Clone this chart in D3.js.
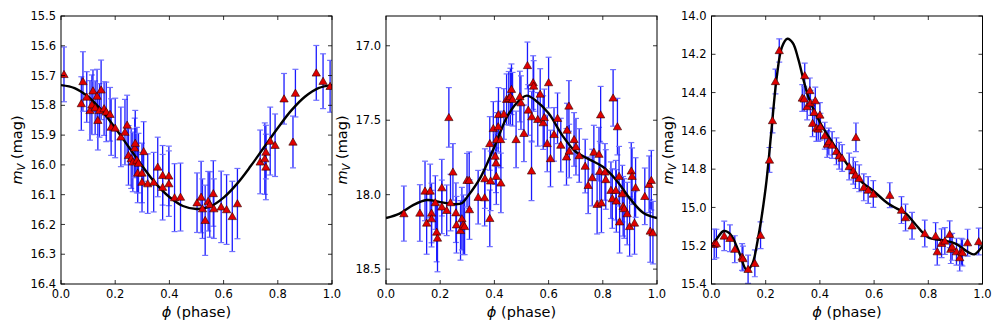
<!DOCTYPE html>
<html><head><meta charset="utf-8">
<script src="https://cdn.jsdelivr.net/npm/d3@7"></script>
<style>
html,body{margin:0;padding:0;background:#fff;}
svg{display:block;font-family:"DejaVu Sans",sans-serif;}
</style></head>
<body>
<svg id="chart" width="1003" height="335"></svg>
<script>
// ---------- Panel 1 data ----------
const phase1 = [0.011,0.075,0.081,0.095,0.107,0.114,0.118,0.126,0.133,0.136,0.142,0.148,0.159,0.167,0.181,0.185,0.200,0.221,0.236,0.244,0.249,0.259,0.265,0.272,0.274,0.280,0.283,0.286,0.299,0.299,0.305,0.320,0.342,0.357,0.375,0.375,0.398,0.398,0.419,0.441,0.502,0.517,0.522,0.532,0.543,0.549,0.562,0.564,0.591,0.611,0.632,0.651,0.735,0.752,0.756,0.756,0.772,0.790,0.823,0.856,0.865,0.942,0.967,0.993];
const mag1 = [15.696,15.794,15.720,15.772,15.817,15.798,15.751,15.808,15.769,15.850,15.817,15.748,15.811,15.822,15.830,15.873,15.876,15.906,15.890,15.866,15.968,15.979,15.990,15.943,15.927,15.984,16.027,15.994,16.027,16.058,15.955,16.063,16.058,16.007,16.035,16.075,16.037,16.063,16.110,16.108,16.127,16.108,16.147,16.186,16.122,16.133,16.096,16.147,16.141,16.150,16.173,16.130,15.990,15.979,16.007,15.957,15.920,15.934,15.778,15.923,15.759,15.691,15.719,15.736];
const err1 = [0.092,0.090,0.100,0.085,0.100,0.100,0.070,0.090,0.090,0.100,0.090,0.100,0.090,0.100,0.090,0.095,0.100,0.100,0.110,0.100,0.100,0.100,0.100,0.100,0.110,0.110,0.100,0.100,0.100,0.100,0.100,0.100,0.100,0.100,0.100,0.110,0.100,0.110,0.114,0.114,0.100,0.120,0.100,0.118,0.100,0.110,0.110,0.100,0.120,0.117,0.118,0.118,0.107,0.120,0.110,0.090,0.114,0.105,0.085,0.087,0.080,0.092,0.092,0.087];
const curvePhase1 = [0,0.05,0.1,0.15,0.2,0.25,0.3,0.35,0.4,0.45,0.5,0.55,0.6,0.65,0.7,0.75,0.8,0.85,0.9,0.95,1.0];
const curveMag1 = [15.732,15.742,15.771,15.817,15.876,15.940,16.004,16.063,16.108,16.138,16.148,16.140,16.110,16.063,16.004,15.940,15.876,15.817,15.771,15.742,15.732];
const yTicks1 = [15.5,15.6,15.7,15.8,15.9,16.0,16.1,16.2,16.3,16.4];

// ---------- Panel 2 data ----------
const phase2 = [0.066,0.125,0.144,0.150,0.163,0.168,0.168,0.182,0.187,0.190,0.206,0.206,0.224,0.232,0.238,0.247,0.258,0.260,0.275,0.280,0.285,0.290,0.299,0.307,0.308,0.340,0.364,0.365,0.383,0.383,0.386,0.396,0.403,0.406,0.407,0.408,0.414,0.415,0.423,0.424,0.435,0.445,0.453,0.459,0.463,0.467,0.480,0.494,0.498,0.509,0.522,0.525,0.537,0.538,0.543,0.545,0.560,0.569,0.580,0.584,0.595,0.600,0.607,0.620,0.633,0.645,0.666,0.668,0.675,0.676,0.694,0.701,0.713,0.735,0.746,0.761,0.767,0.779,0.786,0.789,0.792,0.795,0.808,0.811,0.830,0.835,0.838,0.848,0.850,0.854,0.860,0.862,0.872,0.875,0.879,0.890,0.899,0.905,0.908,0.917,0.921,0.955,0.971,0.975,0.979,0.985];
const mag2 = [18.127,18.123,17.975,18.190,17.975,18.123,18.161,18.053,18.251,18.291,17.953,18.082,18.105,17.481,18.053,17.847,18.121,18.202,18.240,18.161,18.202,18.213,17.903,17.903,18.100,18.017,18.020,17.892,18.159,17.656,17.907,17.555,17.741,17.786,17.876,17.629,17.543,17.461,17.629,17.921,17.458,17.359,17.353,17.341,17.292,17.359,17.629,17.341,17.382,17.588,17.132,17.431,17.840,17.476,17.247,17.270,17.494,17.324,17.516,17.481,17.656,17.247,17.757,17.595,17.487,17.667,17.746,17.566,17.404,17.707,17.629,17.678,17.737,17.808,17.937,17.885,17.714,18.064,17.728,17.842,17.463,18.055,17.847,17.898,17.970,18.026,17.350,17.970,18.042,17.543,17.876,18.182,17.993,18.078,18.093,18.127,18.213,17.840,17.876,18.190,17.952,18.011,17.930,18.244,17.903,18.255];
const err2 = [0.185,0.190,0.200,0.210,0.180,0.200,0.190,0.180,0.200,0.227,0.190,0.180,0.170,0.200,0.190,0.190,0.200,0.190,0.200,0.210,0.200,0.190,0.180,0.190,0.200,0.180,0.190,0.200,0.190,0.180,0.200,0.180,0.190,0.200,0.190,0.180,0.170,0.180,0.190,0.200,0.170,0.170,0.180,0.190,0.170,0.180,0.190,0.170,0.180,0.190,0.157,0.170,0.200,0.170,0.180,0.170,0.180,0.170,0.180,0.190,0.190,0.170,0.190,0.180,0.170,0.180,0.190,0.180,0.170,0.180,0.180,0.190,0.180,0.180,0.190,0.190,0.180,0.200,0.180,0.200,0.190,0.200,0.190,0.200,0.190,0.200,0.190,0.200,0.210,0.190,0.200,0.210,0.190,0.200,0.200,0.210,0.200,0.190,0.190,0.210,0.200,0.190,0.190,0.210,0.200,0.210];
const curvePhase2 = [0,0.05,0.1,0.15,0.2,0.25,0.28,0.3,0.35,0.4,0.45,0.5,0.52,0.55,0.6,0.65,0.7,0.75,0.8,0.85,0.9,0.95,1.0];
const curveMag2 = [18.157,18.127,18.070,18.036,18.050,18.064,18.058,18.015,17.880,17.678,17.465,17.353,17.335,17.364,17.454,17.600,17.712,17.763,17.813,17.903,18.026,18.123,18.157];
const yTicks2 = [17.0,17.5,18.0,18.5];

// ---------- Panel 3 data ----------
const phase3 = [0.010,0.018,0.047,0.068,0.086,0.113,0.116,0.135,0.160,0.181,0.214,0.225,0.236,0.250,0.335,0.342,0.344,0.353,0.363,0.365,0.373,0.379,0.383,0.387,0.394,0.400,0.402,0.418,0.427,0.433,0.445,0.461,0.471,0.482,0.508,0.523,0.533,0.531,0.545,0.562,0.578,0.597,0.658,0.701,0.716,0.740,0.787,0.827,0.833,0.849,0.861,0.879,0.883,0.888,0.904,0.916,0.922,0.926,0.945,0.986];
const mag3 = [15.192,15.189,15.149,15.161,15.218,15.259,15.267,15.323,15.292,15.145,14.752,14.546,14.342,14.180,14.428,14.433,14.311,14.473,14.389,14.454,14.560,14.503,14.442,14.585,14.590,14.517,14.578,14.625,14.669,14.656,14.674,14.707,14.730,14.742,14.786,14.808,14.634,14.831,14.848,14.895,14.909,14.930,14.936,15.014,15.053,15.096,15.136,15.149,15.231,15.187,15.175,15.140,15.218,15.206,15.231,15.262,15.231,15.236,15.184,15.178];
const err3 = [0.079,0.075,0.077,0.070,0.070,0.070,0.065,0.074,0.070,0.070,0.065,0.065,0.065,0.061,0.070,0.065,0.065,0.070,0.065,0.065,0.070,0.065,0.070,0.070,0.065,0.065,0.070,0.070,0.070,0.070,0.070,0.070,0.070,0.070,0.070,0.070,0.075,0.070,0.070,0.070,0.070,0.070,0.065,0.070,0.070,0.070,0.070,0.070,0.070,0.075,0.070,0.070,0.075,0.070,0.070,0.070,0.070,0.070,0.070,0.070];
const curvePhase3 = [0,0.02,0.045,0.07,0.1,0.13,0.15,0.17,0.2,0.22,0.24,0.26,0.28,0.3,0.32,0.34,0.36,0.4,0.45,0.5,0.55,0.6,0.65,0.7,0.72,0.75,0.8,0.85,0.9,0.95,0.97,1.0];
const curveMag3 = [15.201,15.163,15.123,15.140,15.227,15.328,15.297,15.175,14.896,14.616,14.328,14.162,14.119,14.141,14.224,14.337,14.433,14.555,14.669,14.773,14.861,14.917,14.978,15.018,15.035,15.084,15.157,15.171,15.189,15.236,15.245,15.201];
const yTicks3 = [14.0,14.2,14.4,14.6,14.8,15.0,15.2,15.4];

const xTicks = [0.0,0.2,0.4,0.6,0.8,1.0];

const panels = [
  {phase: phase1, mag: mag1, err: err1, cx: curvePhase1, cy: curveMag1, yDomain: [15.5,16.4], yTicks: yTicks1, left: 61},
  {phase: phase2, mag: mag2, err: err2, cx: curvePhase2, cy: curveMag2, yDomain: [16.8,18.6], yTicks: yTicks2, left: 386},
  {phase: phase3, mag: mag3, err: err3, cx: curvePhase3, cy: curveMag3, yDomain: [14.0,15.4], yTicks: yTicks3, left: 711.5}
];

const svg = d3.select("#chart");
const W = 271, H = 268, TOP = 16;
const tickLen = 4;

panels.forEach((p, pi) => {
  const g = svg.append("g").attr("transform", `translate(${p.left},${TOP})`);
  const x = d3.scaleLinear().domain([0,1]).range([0, W]);
  const y = d3.scaleLinear().domain(p.yDomain).range([0, H]);

  const clipId = "clip" + pi;
  g.append("clipPath").attr("id", clipId).append("rect").attr("width", W).attr("height", H);
  const plot = g.append("g").attr("clip-path", `url(#${clipId})`);

  const pts = p.phase.map((v,i) => ({x: v, y: p.mag[i], e: p.err[i]}));

  // error bars
  const eb = plot.append("g");
  pts.forEach(d => {
    const px = x(d.x);
    eb.append("line").attr("x1", px).attr("x2", px)
      .attr("y1", y(d.y - d.e)).attr("y2", y(d.y + d.e))
      .attr("stroke", "#1a1aff").attr("stroke-width", 1.3);
    [d.y - d.e, d.y + d.e].forEach(v => {
      eb.append("line").attr("x1", px - 3).attr("x2", px + 3)
        .attr("y1", y(v)).attr("y2", y(v))
        .attr("stroke", "#7070ff").attr("stroke-width", 1.2);
    });
  });

  // fitted curve
  const line = d3.line().x((d,i) => x(p.cx[i])).y((d,i) => y(p.cy[i])).curve(d3.curveCatmullRom.alpha(0.5));
  plot.append("path").attr("d", line(p.cx)).attr("fill", "none")
    .attr("stroke", "#000").attr("stroke-width", 2.4);

  // markers
  const sym = d3.symbol().type(d3.symbolTriangle).size(30);
  plot.append("g").selectAll("path").data(pts).join("path")
    .attr("d", sym)
    .attr("transform", d => `translate(${x(d.x)},${y(d.y) + 0.8})`)
    .attr("fill", "#e00000").attr("stroke", "#300000").attr("stroke-width", 0.6);

  // frame
  g.append("rect").attr("width", W).attr("height", H).attr("fill", "none")
    .attr("stroke", "#000").attr("stroke-width", 1);

  // ticks (inside, all four sides)
  const tk = g.append("g").attr("stroke", "#000").attr("stroke-width", 0.8);
  xTicks.forEach(t => {
    tk.append("line").attr("x1", x(t)).attr("x2", x(t)).attr("y1", H).attr("y2", H - tickLen);
    tk.append("line").attr("x1", x(t)).attr("x2", x(t)).attr("y1", 0).attr("y2", tickLen);
  });
  p.yTicks.forEach(t => {
    tk.append("line").attr("x1", 0).attr("x2", tickLen).attr("y1", y(t)).attr("y2", y(t));
    tk.append("line").attr("x1", W).attr("x2", W - tickLen).attr("y1", y(t)).attr("y2", y(t));
  });

  // tick labels
  const fmt = d3.format(".1f");
  g.append("g").selectAll("text").data(xTicks).join("text")
    .attr("x", d => x(d)).attr("y", H + 14).attr("text-anchor", "middle")
    .attr("font-size", 11.5).attr("fill", "#000").text(d => fmt(d));
  g.append("g").selectAll("text").data(p.yTicks).join("text")
    .attr("x", -5).attr("y", d => y(d)).attr("dy", "0.36em").attr("text-anchor", "end")
    .attr("font-size", 11.5).attr("fill", "#000").text(d => fmt(d));

  // x label
  const xl = g.append("text").attr("x", W/2).attr("y", H + 33).attr("text-anchor", "middle")
    .attr("font-size", 14.5).attr("fill", "#000");
  xl.append("tspan").attr("font-style", "italic").text("ϕ");
  xl.append("tspan").text(" (phase)");

  // y label
  const yl = g.append("text").attr("transform", `translate(-39,${H/2}) rotate(-90)`)
    .attr("text-anchor", "middle").attr("font-size", 14.5).attr("fill", "#000");
  yl.append("tspan").attr("font-style", "italic").text("m");
  yl.append("tspan").attr("font-style", "italic").attr("font-size", 10).attr("dy", 3).text("V");
  yl.append("tspan").attr("dy", -3).text(" (mag)");
});
</script>
</body></html>
